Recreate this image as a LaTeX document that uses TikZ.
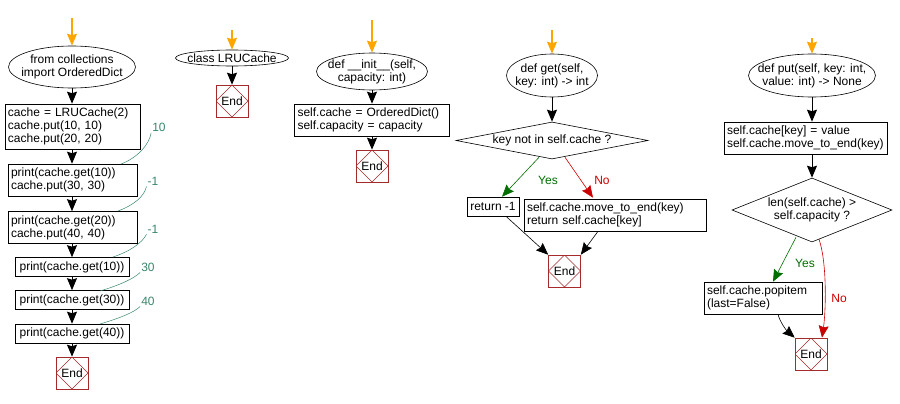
\documentclass[tikz,border=0pt]{standalone}
\usepackage{fontspec}
\setmainfont{Liberation Sans}
\usetikzlibrary{shapes.geometric,arrows.meta,calc}
\definecolor{endred}{RGB}{165,42,42}
\definecolor{annot}{RGB}{56,134,106}
\definecolor{yesgreen}{RGB}{0,110,0}
\definecolor{nored}{RGB}{204,0,0}
\definecolor{startor}{RGB}{255,165,0}
\begin{document}
\begin{tikzpicture}[x=1pt,y=-1pt, font=\fontsize{12}{13}\selectfont,
 box/.style={draw, line width=0.6pt, inner xsep=3pt, inner ysep=0pt, align=left},
 sbox/.style={draw, line width=0.6pt, inner sep=0pt},
 oval/.style={draw, ellipse, line width=0.6pt, inner sep=0pt},
 dia/.style={draw, diamond, line width=0.6pt, inner sep=0pt},
 endnode/.style={draw=endred, line width=0.6pt, minimum size=32pt, inner sep=0pt,
   path picture={\draw[endred, line width=0.6pt] (path picture bounding box.north) -- (path picture bounding box.east) -- (path picture bounding box.south) -- (path picture bounding box.west) -- cycle;}},
 tip/.tip={Stealth[length=12pt,width=10pt,inset=1.5pt]},
 flow/.style={draw, line width=1pt, -tip},
 thinflow/.style={draw, line width=0.6pt, -tip},
 startarrow/.style={draw=startor, line width=1.2pt, -tip},
 yesarrow/.style={draw=yesgreen, line width=0.6pt, -tip},
 noarrow/.style={draw=nored, line width=0.6pt, -tip},
 annotline/.style={draw=annot, line width=0.5pt},
 annottext/.style={text=annot, inner sep=1pt},
]
\useasboundingbox (0,0) rectangle (900,404);

% ---------- column 1 ----------
\coordinate (s1) at (72,18);
\node[oval, minimum width=127pt, minimum height=42pt,
  label={[align=center]center:from collections\\import OrderedDict}] (e1) at (72,67) {};
\node[box, text width=129pt, minimum height=45pt] (b1) at (72.5,126.5)
  {cache = LRUCache(2)\\cache.put(10, 10)\\cache.put(20, 20)};
\node[box, text width=123pt, minimum height=32pt] (b2) at (72.5,180)
  {print(cache.get(10))\\cache.put(30, 30)};
\node[box, text width=123pt, minimum height=32pt] (b3) at (72.5,227.5)
  {print(cache.get(20))\\cache.put(40, 40)};
\node[sbox, minimum width=114pt, minimum height=19pt] (b4) at (72,267) {print(cache.get(10))};
\node[sbox, minimum width=114pt, minimum height=19pt] (b5) at (72,300) {print(cache.get(30))};
\node[sbox, minimum width=114pt, minimum height=19pt] (b6) at (72,333.5) {print(cache.get(40))};
\node[endnode] (x1) at (72,373) {End};

\draw[startarrow] (s1) -- (e1.north);
\draw[flow] (e1.south) -- (b1.north -| e1.south);
\draw[flow] (b1.south -| e1.south) -- (b2.north -| e1.south);
\draw[flow] (b2.south -| e1.south) -- (b3.north -| e1.south);
\draw[flow] (b3.south -| e1.south) -- (b4.north);
\draw[flow] (b4.south) -- (b5.north);
\draw[flow] (b5.south) -- (b6.north);
\draw[flow] (b6.south) -- (x1.north);

% annotations
\node[annottext] (n1) at (159,127.5) {10};
\node[annottext] (n2) at (153,181) {-1};
\node[annottext] (n3) at (153,229) {-1};
\node[annottext] (n4) at (148,267) {30};
\node[annottext] (n5) at (148,301) {40};
\coordinate (a1) at (121,164);
\coordinate (a2) at (118,211);
\coordinate (a3) at (113,257);
\coordinate (a4) at (100,291);
\coordinate (a5) at (100,324);
\draw[annotline] (a1) .. controls +(16,-6) and +(-2,12) .. (n1.south west);
\draw[annotline] (a2) .. controls +(16,-6) and +(-2,10) .. (n2.south west);
\draw[annotline] (a3) .. controls +(18,-6) and +(-4,8) .. (n3.south west);
\draw[annotline] (a4) .. controls +(20,-6) and +(-6,6) .. (n4.south west);
\draw[annotline] (a5) .. controls +(20,-6) and +(-6,6) .. (n5.south west);

% ---------- column 2 ----------
\coordinate (s2) at (232,30);
\node[oval, minimum width=113pt, minimum height=16pt,
  label={center:class LRUCache}] (e2) at (232,58) {};
\node[endnode] (x2) at (232,101) {End};
\draw[startarrow] (s2) -- (e2.north);
\draw[flow] (e2.south) -- (x2.north);

% ---------- column 3 ----------
\coordinate (s3) at (372,20);
\node[oval, minimum width=111pt, minimum height=37pt,
  label={[align=center]center:def \_\_init\_\_(self,\\capacity: int)}] (e3) at (372,71.5) {};
\node[box, text width=149pt, minimum height=32pt] (b7) at (372,120)
  {self.cache = OrderedDict()\\self.capacity = capacity};
\node[endnode] (x3) at (372,166) {End};
\draw[startarrow] (s3) -- (e3.north);
\draw[flow] (e3.south) -- (b7.north);
\draw[flow] (b7.south) -- (x3.north);

% ---------- column 4 ----------
\coordinate (s4) at (552,30);
\node[oval, minimum width=91pt, minimum height=43pt,
  label={[align=center]center:def get(self,\\key: int) -> int}] (e4) at (552,75.5) {};
\node[dia, minimum width=192pt, minimum height=37pt,
  label={center:key not in self.cache ?}] (d1) at (552,140.5) {};
\node[sbox, minimum width=52pt, minimum height=19pt] (r1) at (493,206.5) {return -1};
\node[box, text width=176pt, minimum height=32pt] (b8) at (615,215)
  {self.cache.move\_to\_end(key)\\return self.cache[key]};
\node[endnode] (x4) at (564.5,271) {End};
\draw[startarrow] (s4) -- (e4.north);
\draw[flow] (e4.south) -- (d1.north);
\draw[yesarrow] ($(d1.south)+(-13,-2)$) -- ($(r1.north)+(9,0)$);
\node[text=yesgreen] (y1) at (548,180) {Yes};
\draw[noarrow] ($(d1.south)+(13,-2)$) -- ($(b8.north)+(-22,-1)$);
\node[text=nored] (no1) at (602,180) {No};
\draw[thinflow] ($(r1.south)+(13,0)$) -- (x4.north west);
\draw[thinflow] ($(b8.south)+(-17,0)$) -- (x4.north east);

% ---------- column 5 ----------
\coordinate (s5) at (812,38);
\node[oval, minimum width=127pt, minimum height=43pt,
  label={[align=center]center:def put(self, key: int,\\value: int) -> None}] (e5) at (812,75.5) {};
\node[box, text width=157pt, minimum height=32pt] (b9) at (805.5,138)
  {self.cache[key] = value\\self.cache.move\_to\_end(key)};
\node[dia, minimum width=160pt, minimum height=64pt,
  label={[align=center]center:len(self.cache) >\\self.capacity ?}] (d2) at (812,210) {};
\node[box, text width=112pt, minimum height=32pt] (b10) at (763,298)
  {self.cache.popitem\\(last=False)};
\node[endnode] (x5) at (811,354) {End};
\draw[startarrow] (s5) -- (e5.north);
\draw[flow] (e5.south) -- (b9.north -| e5.south);
\draw[flow] (b9.south -| d2.north) -- (d2.north);
\draw[yesarrow] ($(d2.south)+(-16,-5)$) -- ($(b10.north)+(10,0)$);
\node[text=yesgreen] (y2) at (805,263) {Yes};
\draw[noarrow] ($(d2.south)+(7,-3)$) .. controls (827,262) and (826,310) .. ($(x5.north)+(11,0)$);
\node[text=nored] (no2) at (839,298) {No};
\draw[thinflow] ($(b10.south)+(15,0)$) .. controls +(2,8) and +(-8,-7) .. (x5.north west);
\end{tikzpicture}
\end{document}
